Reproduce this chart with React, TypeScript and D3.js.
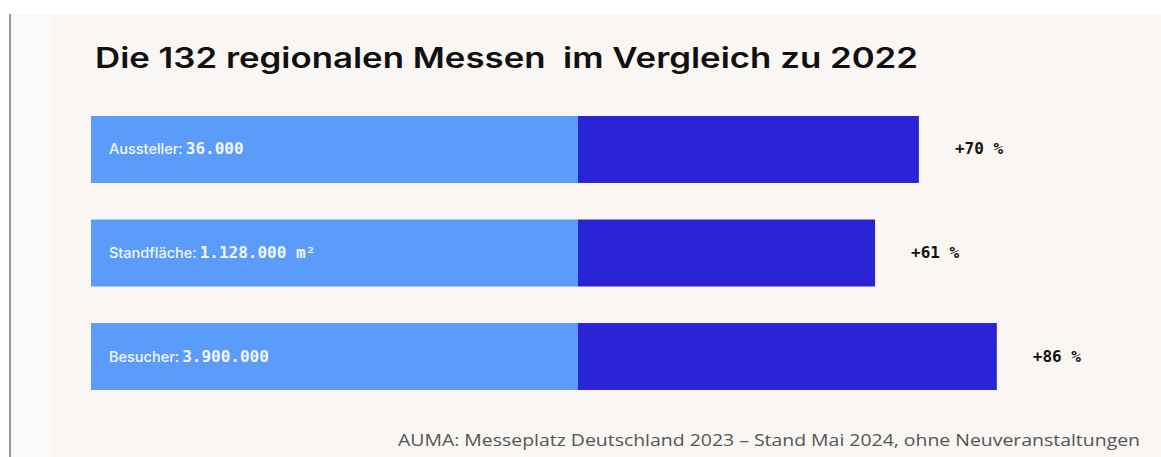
import React from "react";
import * as d3 from "d3";

const title = "Die 132 regionalen Messen\u00a0 im Vergleich zu 2022";
const categories = ["Aussteller:", "Standfläche:", "Besucher:"];
const valueLabels = ["36.000", "1.128.000 m²", "3.900.000"];
const baseValues = [100, 100, 100];
const changePct = [70, 61, 86];
const source = "AUMA: Messeplatz Deutschland 2023 – Stand Mai 2024, ohne Neuveranstaltungen";

const W = 1161;
const H = 457;

export default function App() {
  const x = d3.scaleLinear().domain([0, 100]).range([91, 578]);
  const y = d3
    .scaleBand<string>()
    .domain(categories)
    .range([116, 390])
    .paddingInner(0.353)
    .paddingOuter(0);
  const mono = "'DejaVu Sans Mono', 'Liberation Mono', monospace";
  const sans = "Inter, 'Noto Sans', sans-serif";
  return (
    <svg
      width={W}
      height={H}
      style={{ position: "absolute", left: 0, top: 0, display: "block" }}
    >
      <rect x={0} y={0} width={W} height={H} fill="#ffffff" />
      <rect x={11} y={14} width={W - 11} height={H - 14} fill="#fbfaf8" />
      <rect x={50} y={14} width={W - 50} height={H - 14} fill="#f9f6f3" />
      <line x1={10} x2={10} y1={14} y2={H} stroke="#777" strokeWidth={1.5} />
      <text
        x={95}
        y={68}
        fontFamily={sans}
        fontWeight={600}
        fontSize={28}
        fill="#111"
        textLength={823}
        lengthAdjust="spacingAndGlyphs"
        style={{ whiteSpace: "pre" }}
      >
        {title}
      </text>
      {categories.map((c, i) => {
        const y0 = y(c)!;
        const bh = y.bandwidth();
        const total = baseValues[i] * (1 + changePct[i] / 100);
        const cy = y0 + bh / 2;
        return (
          <g key={c}>
            <rect x={x(0)} y={y0} width={x(baseValues[i]) - x(0)} height={bh} fill="#5b9cfb" />
            <rect
              x={x(baseValues[i])}
              y={y0}
              width={x(total) - x(baseValues[i])}
              height={bh}
              fill="#2b24d6"
            />
            <text x={109} y={cy + 5} fill="#f3f6ff">
              <tspan fontFamily={sans} fontWeight={500} fontSize={14.5}>
                {c}
              </tspan>
              <tspan fontFamily={mono} fontWeight={700} fontSize={16} dx={3}>
                {valueLabels[i]}
              </tspan>
            </text>
            <text
              x={x(total) + 36}
              y={cy + 5}
              fontFamily={mono}
              fontWeight={700}
              fontSize={16}
              fill="#111"
            >
              {`+${changePct[i]} %`}
            </text>
          </g>
        );
      })}
      <text
        x={398}
        y={446}
        fontFamily="'Open Sans', sans-serif"
        fontSize={17}
        fill="#555"
        textLength={742}
        lengthAdjust="spacingAndGlyphs"
      >
        {source}
      </text>
    </svg>
  );
}
